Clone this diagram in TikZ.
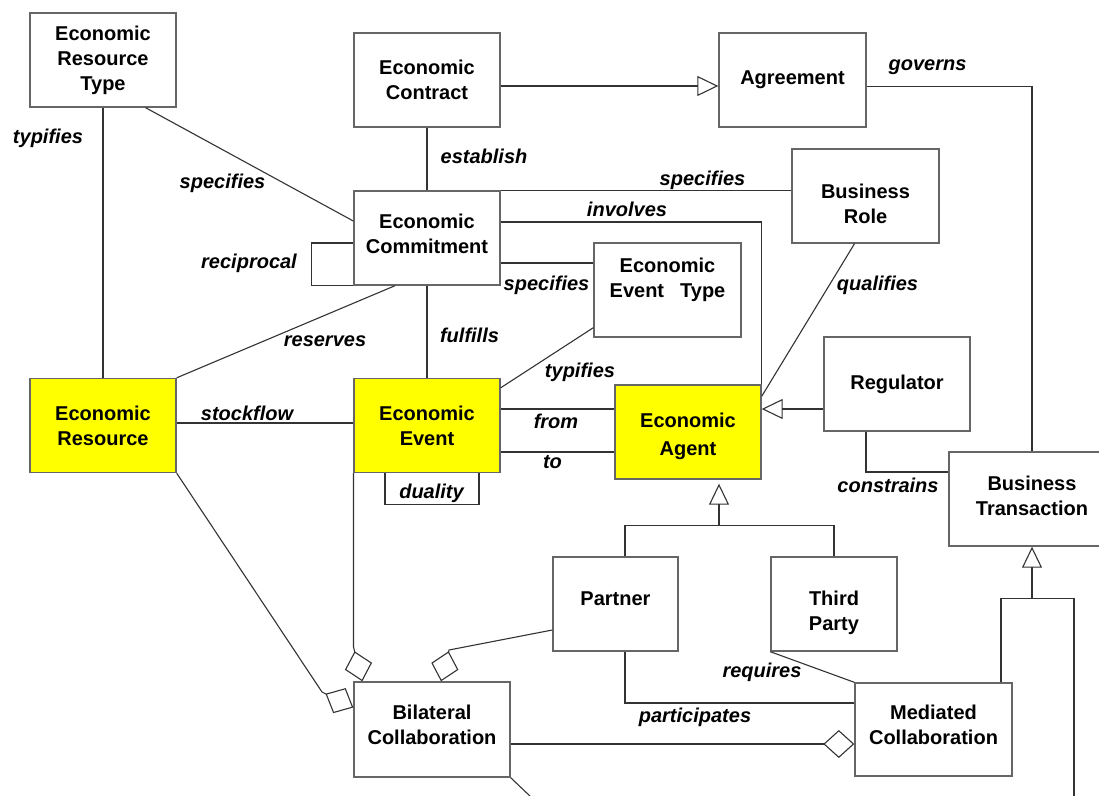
\documentclass[tikz,border=0pt]{standalone}
\usepackage{fontspec}
\setmainfont{Liberation Sans}
\usetikzlibrary{arrows.meta}
\definecolor{ayellow}{HTML}{FFFF00}
\definecolor{boxline}{HTML}{666666}
\definecolor{conline}{HTML}{333333}
\begin{document}
\begin{tikzpicture}[x=1pt,y=-1pt,
  box/.style={draw=boxline, line width=1.4pt, fill=white, minimum width=146pt, minimum height=94pt, align=center, font=\fontsize{20}{25}\selectfont\bfseries, inner sep=0pt},
  hl/.style={box, fill=ayellow},
  lbl/.style={font=\fontsize{20}{25}\selectfont\bfseries\itshape, inner sep=0pt, text height=14.5pt, text depth=4.2pt},
  conn/.style={draw=conline, line width=1.1pt},
  gen/.style={conn, -{Triangle[open, length=21pt, width=20pt]}},
  agg/.style={conn, -{Diamond[open, length=31pt, width=28pt]}},
]
\fill[white] (0,0) rectangle (1099,795);
\useasboundingbox (0,0) rectangle (1099,795);

% boxes
\node[box] (ert) at (103,60) {Economic\\Resource\\Type};
\node[box] (contract) at (427,80) {Economic\\Contract};
\node[box, minimum width=147pt] (agreement) at (792.5,80) {Agreement};
\node[box] (comm) at (427,238) {Economic\\Commitment\\[-17pt]\mbox{}};
\node[box, minimum width=147pt] (brole) at (865.5,196) {\mbox{}\\[4.5pt]Business\\Role};
\node[box, minimum width=147pt] (evtype) at (667.5,290) {Economic\\Event\hspace{16pt}Type\\~};
\node[hl] (res) at (103,425.5) {Economic\\Resource};
\node[hl] (event) at (427,425.5) {Economic\\Event};
\node[hl] (agent) at (688,432) {\mbox{}\\[-1.5pt]Economic\\[3pt]Agent};
\node[box] (reg) at (897,384) {Regulator};
\node[box, minimum width=166pt] (bt) at (1032,499) {Business\\Transaction\\[-19pt]\mbox{}};
\node[box, minimum width=125pt] (partner) at (615.5,604) {Partner\\[-15pt]\mbox{}};
\node[box, minimum width=126pt] (third) at (834,604) {\mbox{}\\[7.5pt]Third\\Party};
\node[box, minimum width=156pt, minimum height=95pt] (bilat) at (432,729.5) {Bilateral\\Collaboration\\[-15pt]\mbox{}};
\node[box, minimum width=157pt, minimum height=93pt] (med) at (933.5,729.5) {Mediated\\Collaboration\\[-15pt]\mbox{}};

% connectors
\draw[conn] (ert.south) -- (res.north);
\draw[conn] ([xshift=42.6]ert.south) -- ([yshift=17]comm.west);
\draw[gen] ([yshift=-6]contract.east) -- ([yshift=-6]agreement.west);
\draw[conn] (contract.south) -- (comm.north);
\draw[conn] ([yshift=-6.5]agreement.east) -| (bt.north);
\draw[conn] (comm.north east) -- (comm.north east -| brole.west);
\draw[conn] ([yshift=16]comm.east) -| (agent.north east);
\draw[conn] ([yshift=-25]comm.east) -- ([yshift=-25]comm.east -| evtype.west);
\draw[conn] (comm.south west) -- ++(-42,0) |- ([yshift=-5]comm.west);
\draw[conn] ([xshift=-32]comm.south) -- (res.north east);
\draw[conn] (comm.south) -- (event.north);
\draw[conn] ([yshift=10]evtype.south west) -- ([yshift=-10]event.north east);
\draw[conn] ([xshift=-11]brole.south) -- ([yshift=-12]agent.north east);
\draw[gen] ([yshift=-25]reg.west) -- ([yshift=-25]reg.west -| agent.east);
\draw[conn] ([xshift=-31]reg.south) |- ([yshift=27]bt.west);
\draw[conn] ([yshift=2.5]res.east) -- ([yshift=2.5]res.east -| event.west);
\draw[conn] ([yshift=16.5]event.east) -- ([yshift=16.5]event.east -| agent.west);
\draw[conn] ([yshift=-26.5]event.east) -- ([yshift=-26.5]event.east -| agent.west);
\draw[conn] ([xshift=-42]event.south) -- ++(0,31) -| ([xshift=52]event.south);

\coordinate (agj) at ([xshift=31,yshift=-46]agent.south);
\draw[conn] ([xshift=9.5]partner.north) |- (agj) -| (third.north);
\draw[gen, shorten >=4pt] (agj) -- ([xshift=31]agent.south);

\draw[agg] ([yshift=-26]partner.west) -- (449,650) -- ([xshift=9]bilat.north);
\draw[agg] (event.south west -| 353.5,0) -- (353.5,647) -- ([xshift=9]bilat.north west);
\draw[agg] (res.south east) -- (322,692) -- ([yshift=22]bilat.west);
\draw[agg] ([yshift=-14.5]bilat.east) -- ([yshift=-14.5]bilat.east -| med.west);
\draw[conn] ([xshift=9.5]partner.south) |- ([yshift=26.5]med.west);
\draw[conn] (third.south west) -- (med.north west);

\coordinate (btj) at ([yshift=-52]bt.south);
\coordinate (offB) at (1074,797);
\draw[conn] ([xshift=67.5]med.north) |- (btj) -| (offB);
\draw[gen] (btj) -- (bt.south);
\coordinate (offA) at (531,797);
\draw[conn] (bilat.south east) -- (offA);

% labels
\node[lbl] (l1) at (48,138) {typifies};
\node[lbl] (l2) at (222.5,183) {specifies};
\node[lbl] (l3) at (484,158) {establish};
\node[lbl] (l4) at (249,263) {reciprocal};
\node[lbl] (l5) at (325,341) {reserves};
\node[lbl] (l6) at (469.5,337) {fulfills};
\node[lbl] (l7) at (702.5,180) {specifies};
\node[lbl] (l8) at (627,211) {involves};
\node[lbl] (l9) at (546.5,285) {specifies};
\node[lbl] (l10) at (580,372) {typifies};
\node[lbl] (l11) at (877.5,285) {qualifies};
\node[lbl] (l12) at (927.5,65) {governs};
\node[lbl] (l13) at (247,415) {stockflow};
\node[lbl] (l14) at (556,423) {from};
\node[lbl] (l15) at (552.5,463) {to};
\node[lbl] (l16) at (431.5,493) {duality};
\node[lbl] (l17) at (888,487) {constrains};
\node[lbl] (l18) at (762,672) {requires};
\node[lbl] (l19) at (695,717) {participates};
\end{tikzpicture}
\end{document}
